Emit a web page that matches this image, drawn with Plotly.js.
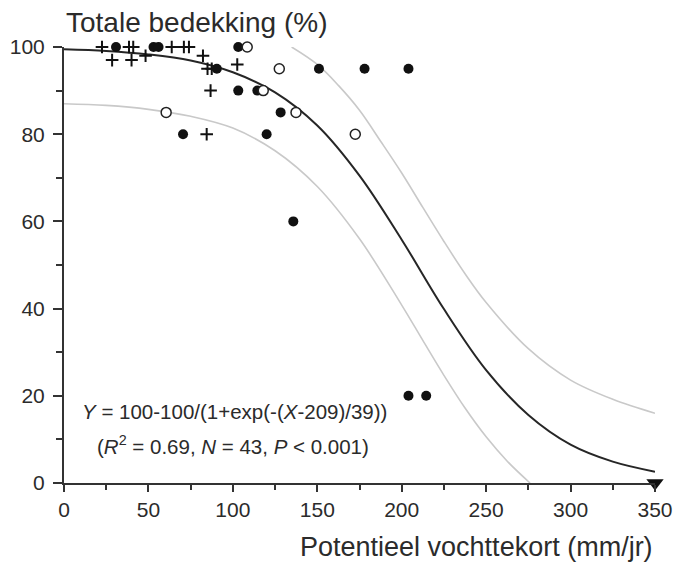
<!DOCTYPE html>
<html><head><meta charset="utf-8">
<script src="https://cdn.plot.ly/plotly-3.0.1.min.js"></script>
<style>html,body{margin:0;padding:0;background:#fff;} #chart{width:673px;height:564px;}</style>
</head><body><div id="chart"></div>
<script>
// Observations: filled circles
const filledX = [30.8, 53, 56, 103.2, 90.5, 151, 178, 204, 103.2, 114.5, 128.3, 70.5, 120, 135.8, 204, 214.5];
const filledY = [100, 100, 100, 100, 95, 95, 95, 95, 90, 90, 85, 80, 80, 60, 20, 20];
// Observations: open circles
const openX = [108.5, 127.5, 118, 60.5, 137.4, 172.5];
const openY = [100, 95, 90, 85, 85, 80];
// Observations: plus signs
const plusX = [22.5, 38.5, 41, 63.8, 71, 74, 28.5, 40, 48.3, 82.3, 102.6, 85, 87.5, 86.8, 84.5];
const plusY = [100, 100, 100, 100, 100, 100, 97, 97, 98, 98, 96, 95, 95, 90, 80];
// Observation beyond the axis (triangle)
const triX = [350];
const triY = [0];

// Fitted logistic curve
const fitX = [0, 25, 50, 75, 100, 125, 150, 175, 200, 225, 250, 275, 300, 325, 350];
const fitY = [99.5, 99.1, 98.3, 96.9, 94.2, 89.6, 82.0, 70.5, 55.8, 39.9, 25.9, 15.6, 8.8, 4.9, 2.6];
// Lower band
const lowX = [0, 25, 50, 75, 100, 125, 150, 175, 200, 212.5, 225, 237.5, 250, 262.5, 276];
const lowY = [87, 86.6, 85.7, 84.1, 81.4, 76.2, 68.0, 56.0, 40.8, 32.7, 24.7, 17.2, 10.6, 5.0, 0];
// Upper band
const upX = [134.8, 150, 162.5, 175, 187.5, 200, 212.5, 225, 237.5, 250, 275, 300, 325, 350];
const upY = [100, 96, 91.2, 85.5, 78.4, 71.1, 63.2, 55.4, 48.0, 41.4, 30.8, 23.6, 19.2, 16.0];

const eqLine1 = '<i>Y</i> = 100-100/(1+exp(-(<i>X</i>-209)/39))';
const eqLine2 = '(<i>R</i><sup>2</sup> = 0.69, <i>N</i> = 43, <i>P</i> < 0.001)';
const yTitle = 'Totale bedekking (%)';
const xTitle = 'Potentieel vochttekort (mm/jr)';

const FONT = 'Liberation Sans, Arial, Helvetica, sans-serif';
const TXT = '#2b2b2b';

const traces = [
  {x: lowX, y: lowY, mode: 'lines', line: {color: '#c9c9c9', width: 1.6, shape: 'spline', smoothing: 1}, hoverinfo: 'skip'},
  {x: upX, y: upY, mode: 'lines', line: {color: '#c9c9c9', width: 1.6, shape: 'spline', smoothing: 1}, hoverinfo: 'skip'},
  {x: fitX, y: fitY, mode: 'lines', line: {color: '#262626', width: 2, shape: 'spline', smoothing: 1}, hoverinfo: 'skip'},
  {x: plusX, y: plusY, mode: 'markers', cliponaxis: false,
   marker: {symbol: 'cross-thin', size: 9, color: '#111', line: {color: '#111', width: 2}}},
  {x: filledX, y: filledY, mode: 'markers', cliponaxis: false,
   marker: {symbol: 'circle', size: 10, color: '#111', line: {width: 0}}},
  {x: openX, y: openY, mode: 'markers', cliponaxis: false,
   marker: {symbol: 'circle', size: 10, color: '#fff', line: {color: '#222', width: 1.5}}},
  {x: triX, y: triY, mode: 'markers', cliponaxis: false,
   marker: {symbol: 'triangle-down', size: 15, color: '#111', line: {width: 0}}}
];

const axisCommon = {
  showline: true, linecolor: '#333', linewidth: 2,
  ticks: 'outside', tickwidth: 2, tickcolor: '#333',
  showgrid: false, zeroline: false,
  tickfont: {family: FONT, size: 21, color: TXT},
  fixedrange: true
};

const layout = {
  width: 673, height: 564,
  margin: {l: 64, r: 18, t: 47, b: 81, pad: 0},
  paper_bgcolor: '#fff', plot_bgcolor: '#fff',
  showlegend: false, hovermode: false,
  font: {family: FONT, color: TXT},
  xaxis: Object.assign({}, axisCommon, {
    range: [0, 350], tick0: 0, dtick: 50, ticklen: 7,
    minor: {dtick: 25, tick0: 0, ticks: 'outside', ticklen: 5, tickwidth: 2, tickcolor: '#333', showgrid: false}
  }),
  yaxis: Object.assign({}, axisCommon, {
    range: [0, 100], tick0: 0, dtick: 20, ticklen: 9, ticklabelstandoff: 4,
    minor: {dtick: 10, tick0: 0, ticks: 'outside', ticklen: 6, tickwidth: 2, tickcolor: '#333', showgrid: false}
  }),
  annotations: [
    {text: yTitle, xref: 'paper', yref: 'paper', x: 0.0, y: 1.057, xanchor: 'left', yanchor: 'middle',
     showarrow: false, font: {family: FONT, size: 28, color: TXT}},
    {text: xTitle, xref: 'paper', yref: 'paper', x: 1.0, y: -0.147, xanchor: 'right', yanchor: 'middle',
     showarrow: false, font: {family: FONT, size: 27, color: TXT}},
    {text: eqLine1, xref: 'paper', yref: 'paper', x: 0.289, y: 0.1635, xanchor: 'center', yanchor: 'middle',
     showarrow: false, font: {family: FONT, size: 20.5, color: TXT}},
    {text: eqLine2, xref: 'paper', yref: 'paper', x: 0.286, y: 0.087, xanchor: 'center', yanchor: 'middle',
     showarrow: false, font: {family: FONT, size: 20.5, color: TXT}}
  ]
};

Plotly.newPlot('chart', traces, layout, {staticPlot: true, displayModeBar: false});
</script>
</body></html>
